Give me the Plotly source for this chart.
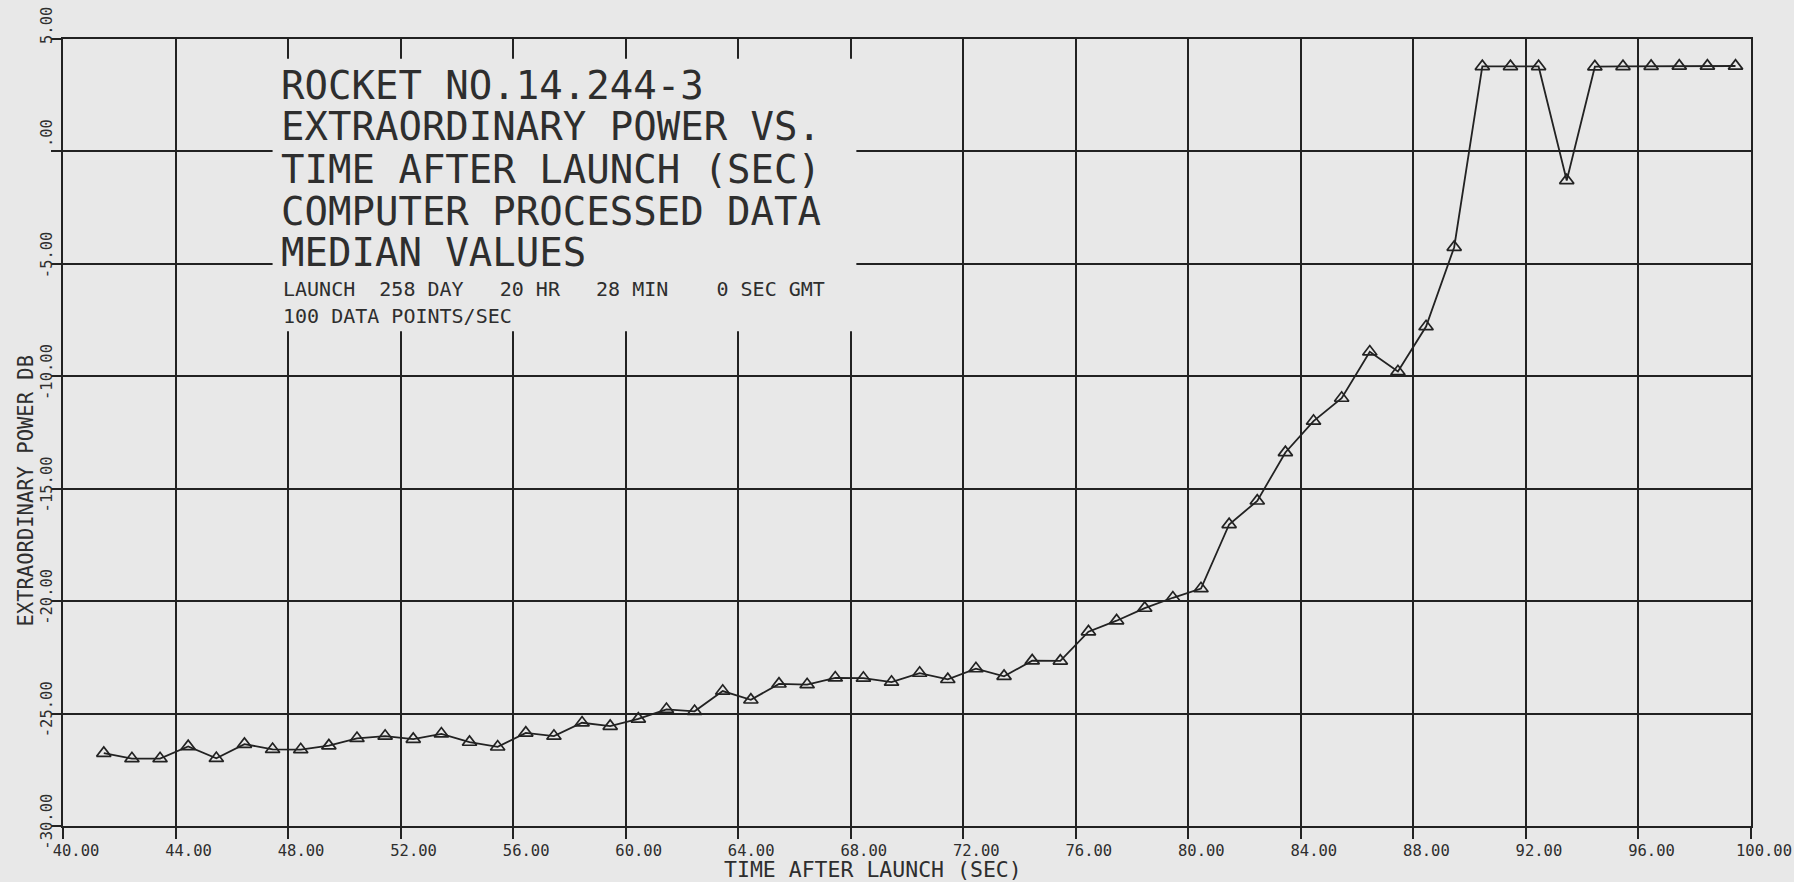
import plotly.graph_objects as go

# ---------------- data ----------------
time_sec = [41.45, 42.45, 43.45, 44.45, 45.45, 46.45, 47.45, 48.45, 49.45, 50.45,
            51.45, 52.45, 53.45, 54.45, 55.45, 56.45, 57.45, 58.45, 59.45, 60.45,
            61.45, 62.45, 63.45, 64.45, 65.45, 66.45, 67.45, 68.45, 69.45, 70.45,
            71.45, 72.45, 73.45, 74.45, 75.45, 76.45, 77.45, 78.45, 79.45, 80.45,
            81.45, 82.45, 83.45, 84.45, 85.45, 86.45, 87.45, 88.45, 89.45, 90.45,
            91.45, 92.45, 93.45, 94.45, 95.45, 96.45, 97.45, 98.45, 99.45]
power_db = [-26.76, -27.00, -27.00, -26.46, -26.99, -26.36, -26.59, -26.60, -26.43, -26.10,
            -26.00, -26.14, -25.90, -26.27, -26.48, -25.86, -26.00, -25.41, -25.56, -25.24,
            -24.81, -24.90, -24.00, -24.39, -23.68, -23.71, -23.41, -23.42, -23.60, -23.20,
            -23.48, -23.00, -23.34, -22.65, -22.66, -21.36, -20.87, -20.31, -19.85, -19.44,
            -16.59, -15.54, -13.39, -11.99, -10.97, -8.91, -9.79, -7.79, -4.26, 3.78,
            3.78, 3.78, -1.29, 3.77, 3.78, 3.79, 3.80, 3.80, 3.80]

x_tick_vals = [40, 44, 48, 52, 56, 60, 64, 68, 72, 76, 80, 84, 88, 92, 96, 100]
x_tick_text = ["40.00", "44.00", "48.00", "52.00", "56.00", "60.00", "64.00", "68.00",
               "72.00", "76.00", "80.00", "84.00", "88.00", "92.00", "96.00", "100.00"]
y_tick_vals = [-30, -25, -20, -15, -10, -5, 0, 5]
y_tick_text = ["-30.00", "-25.00", "-20.00", "-15.00", "-10.00", "-5.00", ".00", "5.00"]

title_lines = ["ROCKET NO.14.244-3",
               "EXTRAORDINARY POWER VS.",
               "TIME AFTER LAUNCH (SEC)",
               "COMPUTER PROCESSED DATA",
               "MEDIAN VALUES"]
info_lines = ["LAUNCH  258 DAY   20 HR   28 MIN    0 SEC GMT",
              "100 DATA POINTS/SEC"]
x_title = "TIME AFTER LAUNCH (SEC)"
y_title = "EXTRAORDINARY POWER DB"

# ---------------- styling ----------------
FONT = "DejaVu Sans Mono"
INK = "#222222"
TEXT_INK = "#2e2e2e"
PAPER = "#e8e8e8"
W_PX, H_PX = 1794, 882
L, R, T, B = 63, 1751, 39, 826


def px_x(px):
    return (px - L) / (R - L)


def px_y(py):
    return 1 - (py - T) / (B - T)


NB = "\u00a0"
pad_len = max(len(t) for t in y_tick_text)
y_tick_text_padded = [NB * (pad_len - len(t)) + t for t in y_tick_text]

fig = go.Figure()
fig.add_trace(go.Scatter(
    x=time_sec, y=power_db, mode="lines+markers",
    line=dict(color=INK, width=1.8),
    marker=dict(symbol="triangle-up-open", size=12.5, color=INK, line=dict(width=1.7, color=INK)),
    showlegend=False, hoverinfo="x+y",
))

# knock-out box behind the title block (covers grid, under the data)
fig.add_shape(type="rect", xref="x", yref="y", x0=47.45, x1=68.2, y0=-8.0, y1=4.12,
              fillcolor=PAPER, line=dict(width=0), layer="between")

annotations = []
big_centers = [85, 127, 170, 211, 252.5]
for txt, cy in zip(title_lines, big_centers):
    annotations.append(dict(text=txt.replace(" ", NB), xref="paper", yref="paper",
                            x=px_x(279), y=px_y(cy), xanchor="left", yanchor="middle",
                            showarrow=False, font=dict(family=FONT, size=39, color=TEXT_INK)))
small_centers = [288.5, 316.5]
for txt, cy in zip(info_lines, small_centers):
    annotations.append(dict(text=txt.replace(" ", NB), xref="paper", yref="paper",
                            x=px_x(281), y=px_y(cy), xanchor="left", yanchor="middle",
                            showarrow=False, font=dict(family=FONT, size=20, color=TEXT_INK)))
annotations.append(dict(text=x_title, xref="paper", yref="paper",
                        x=px_x(873), y=px_y(869), xanchor="center", yanchor="middle",
                        showarrow=False, font=dict(family=FONT, size=21.5, color=TEXT_INK)))
annotations.append(dict(text=y_title, xref="paper", yref="paper",
                        x=px_x(25), y=px_y(490.5), xanchor="center", yanchor="middle",
                        textangle=-90, showarrow=False,
                        font=dict(family=FONT, size=20.5, color=TEXT_INK)))

fig.update_layout(
    width=W_PX, height=H_PX,
    margin=dict(l=L, r=W_PX - R, t=T, b=H_PX - B, pad=0, autoexpand=False),
    paper_bgcolor=PAPER, plot_bgcolor=PAPER,
    annotations=annotations,
    font=dict(family=FONT, color=TEXT_INK),
)
fig.update_xaxes(
    range=[40, 100], tickmode="array", tickvals=x_tick_vals, ticktext=x_tick_text,
    showgrid=True, gridcolor=INK, gridwidth=1.7,
    showline=True, linecolor=INK, linewidth=2, mirror=True,
    ticks="outside", ticklen=11, tickwidth=1.7, tickcolor=INK,
    ticklabelshift=13, ticklabelstandoff=-2, ticklabeloverflow="allow",
    tickfont=dict(family=FONT, size=15.5, color=TEXT_INK),
    zeroline=False, fixedrange=True, automargin=False,
)
fig.update_yaxes(
    range=[-30, 5], tickmode="array", tickvals=y_tick_vals, ticktext=y_tick_text_padded,
    showgrid=True, gridcolor=INK, gridwidth=1.7,
    showline=True, linecolor=INK, linewidth=2, mirror=True,
    ticks="outside", ticklen=10, tickwidth=1.7, tickcolor=INK,
    tickangle=-90, ticklabelshift=-2, ticklabelstandoff=-7, ticklabeloverflow="allow",
    tickfont=dict(family=FONT, size=15.5, color=TEXT_INK),
    zeroline=False, fixedrange=True, automargin=False,
)

fig.write_html("out.html",
               config={"displayModeBar": False},
               post_script="document.body.style.margin='0';document.body.style.padding='0';"
                           "document.body.style.background='" + PAPER + "';")
